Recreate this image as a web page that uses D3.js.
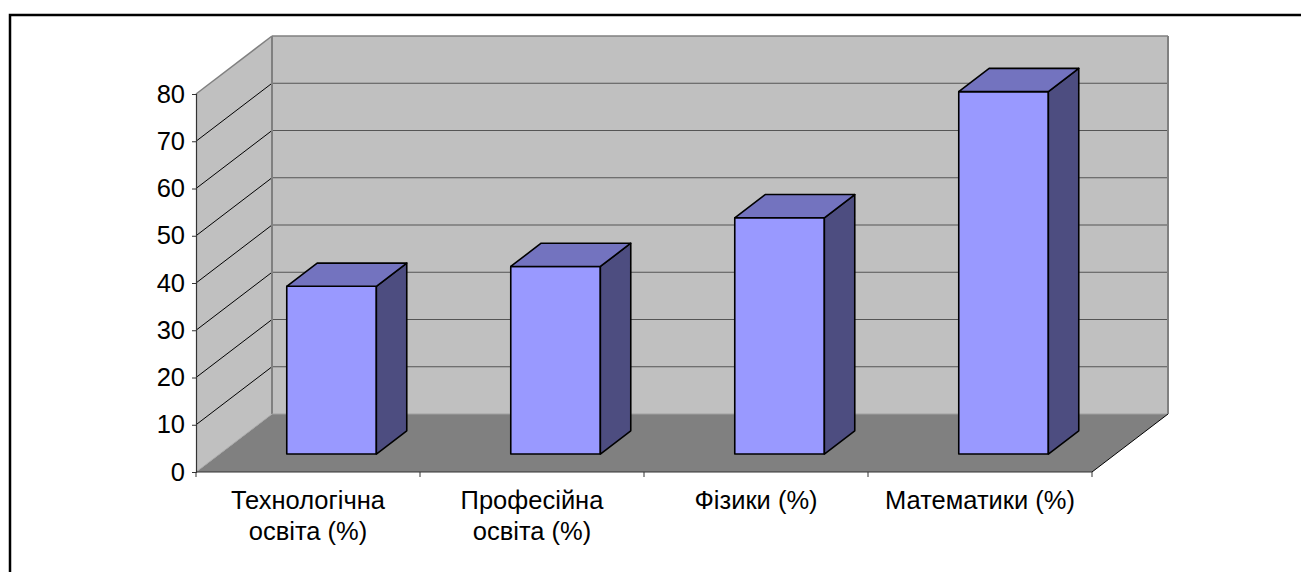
<!DOCTYPE html>
<html>
<head>
<meta charset="utf-8">
<script src="https://cdn.jsdelivr.net/npm/d3@7"></script>
<style>
  body { margin: 0; background: #fff; }
  text { font-family: "Liberation Sans", Arial, sans-serif; fill: #000; }
</style>
</head>
<body>
<div id="chart"></div>
<script>
// dati
const categories = [["Технологічна", "освіта (%)"], ["Професійна", "освіта (%)"], ["Фізики (%)"], ["Математики (%)"]];
const values = [35.5, 39.7, 50, 76.7];
const yTicks = [0, 10, 20, 30, 40, 50, 60, 70, 80];

const W = 1301, H = 572;
const DX = 76, DY = 58;       // profondità obliqua
const Z0 = 0.31, Z1 = 0.71;   // profondità delle barre
const FONT = 25.5;

const svg = d3.select('#chart').append('svg')
  .attr('width', W).attr('height', H);

// cornice esterna
svg.append('rect')
  .attr('x', 10).attr('y', 15)
  .attr('width', 1300).attr('height', 580)
  .attr('fill', 'none').attr('stroke', '#000').attr('stroke-width', 2.5);

const x = d3.scaleBand()
  .domain(d3.range(categories.length))
  .range([196, 1092])
  .padding(0);

const y = d3.scaleLinear()
  .domain([0, 80])
  .range([472, 94]);

const x0 = x.range()[0], x1 = x.range()[1];
const proj = (px, v, z) => [px + z * DX, y(v) - z * DY];
const pts = arr => arr.map(p => p.join(',')).join(' ');

// pavimento
svg.append('polygon')
  .attr('points', pts([proj(x0, 0, 0), proj(x0, 0, 1), proj(x1, 0, 1), proj(x1, 0, 0)]))
  .attr('fill', '#808080');

// parete sinistra
svg.append('polygon')
  .attr('points', pts([proj(x0, 0, 0), proj(x0, 80, 0), proj(x0, 80, 1), proj(x0, 0, 1)]))
  .attr('fill', '#c0c0c0');

// parete di fondo
svg.append('polygon')
  .attr('points', pts([proj(x0, 0, 1), proj(x0, 80, 1), proj(x1, 80, 1), proj(x1, 0, 1)]))
  .attr('fill', '#c0c0c0');

// griglia
const grid = yTicks.filter(t => t > 0 && t < 80);
svg.selectAll('.grid-back').data(grid).enter().append('line')
  .attr('class', 'grid-back')
  .attr('x1', d => proj(x0, d, 1)[0]).attr('y1', d => proj(x0, d, 1)[1])
  .attr('x2', d => proj(x1, d, 1)[0]).attr('y2', d => proj(x1, d, 1)[1])
  .attr('stroke', '#555').attr('stroke-width', 1.2);

svg.selectAll('.grid-side').data(grid).enter().append('line')
  .attr('class', 'grid-side')
  .attr('x1', d => proj(x0, d, 0)[0]).attr('y1', d => proj(x0, d, 0)[1])
  .attr('x2', d => proj(x0, d, 1)[0]).attr('y2', d => proj(x0, d, 1)[1])
  .attr('stroke', '#000').attr('stroke-width', 1);

// bordi delle pareti
const edge = (a, b, color, w) => svg.append('line')
  .attr('x1', a[0]).attr('y1', a[1]).attr('x2', b[0]).attr('y2', b[1])
  .attr('stroke', color).attr('stroke-width', w);

edge(proj(x0, 80, 0), proj(x0, 80, 1), '#808080', 1.5);
edge(proj(x0, 80, 1), proj(x1, 80, 1), '#808080', 1.5);
edge(proj(x0, 80, 1), proj(x0, 0, 1), '#808080', 2);
edge(proj(x1, 80, 1), proj(x1, 0, 1), '#808080', 2);
edge(proj(x0, 0, 1), proj(x1, 0, 1), '#a0a0a0', 1);
edge(proj(x0, 0, 0), proj(x0, 0, 1), '#a8a8a8', 1);
edge(proj(x1, 0, 0), proj(x1, 0, 1), '#000', 1);

// barre
const bars = svg.selectAll('.bar').data(values).enter().append('g').attr('class', 'bar');
const bw = x.bandwidth() * 0.4;
const bx = i => x(i) + (x.bandwidth() - bw) / 2;

bars.append('polygon') // fronte
  .attr('points', (d, i) => pts([proj(bx(i), 0, Z0), proj(bx(i), d, Z0), proj(bx(i) + bw, d, Z0), proj(bx(i) + bw, 0, Z0)]))
  .attr('fill', '#9999ff').attr('stroke', '#000').attr('stroke-width', 1.6).attr('stroke-linejoin', 'round');

bars.append('polygon') // lato
  .attr('points', (d, i) => pts([proj(bx(i) + bw, 0, Z0), proj(bx(i) + bw, d, Z0), proj(bx(i) + bw, d, Z1), proj(bx(i) + bw, 0, Z1)]))
  .attr('fill', '#4d4d80').attr('stroke', '#000').attr('stroke-width', 1.6).attr('stroke-linejoin', 'round');

bars.append('polygon') // sopra
  .attr('points', (d, i) => pts([proj(bx(i), d, Z0), proj(bx(i), d, Z1), proj(bx(i) + bw, d, Z1), proj(bx(i) + bw, d, Z0)]))
  .attr('fill', '#7373bf').attr('stroke', '#000').attr('stroke-width', 1.6).attr('stroke-linejoin', 'round');

// asse y
const yAxis = d3.axisLeft(y).tickValues(yTicks).tickSize(4).tickPadding(7);
const gy = svg.append('g').attr('transform', `translate(${x0},0)`).call(yAxis);
gy.select('.domain').attr('stroke', '#333').attr('stroke-width', 1.2);
gy.selectAll('.tick line').attr('stroke', '#333');
gy.selectAll('.tick text')
  .attr('font-size', FONT)
  .attr('font-family', '"Liberation Sans", Arial, sans-serif')
  .attr('fill', '#000');

// asse x
svg.append('line')
  .attr('x1', x0).attr('y1', y(0)).attr('x2', x1).attr('y2', y(0))
  .attr('stroke', '#333').attr('stroke-width', 1.2);

const bounds = d3.range(categories.length + 1).map(i => x0 + i * x.bandwidth());
svg.selectAll('.xtick').data(bounds).enter().append('line')
  .attr('class', 'xtick')
  .attr('x1', d => d).attr('x2', d => d)
  .attr('y1', y(0)).attr('y2', y(0) + 5)
  .attr('stroke', '#333');

const labels = svg.selectAll('.xlabel').data(categories).enter().append('text')
  .attr('class', 'xlabel')
  .attr('text-anchor', 'middle')
  .attr('font-size', FONT);

labels.selectAll('tspan').data((d, i) => d.map(t => ({ t, i }))).enter().append('tspan')
  .attr('x', d => x(d.i) + x.bandwidth() / 2)
  .attr('y', (d, j) => 509 + j * 31)
  .text(d => d.t);
</script>
</body>
</html>
